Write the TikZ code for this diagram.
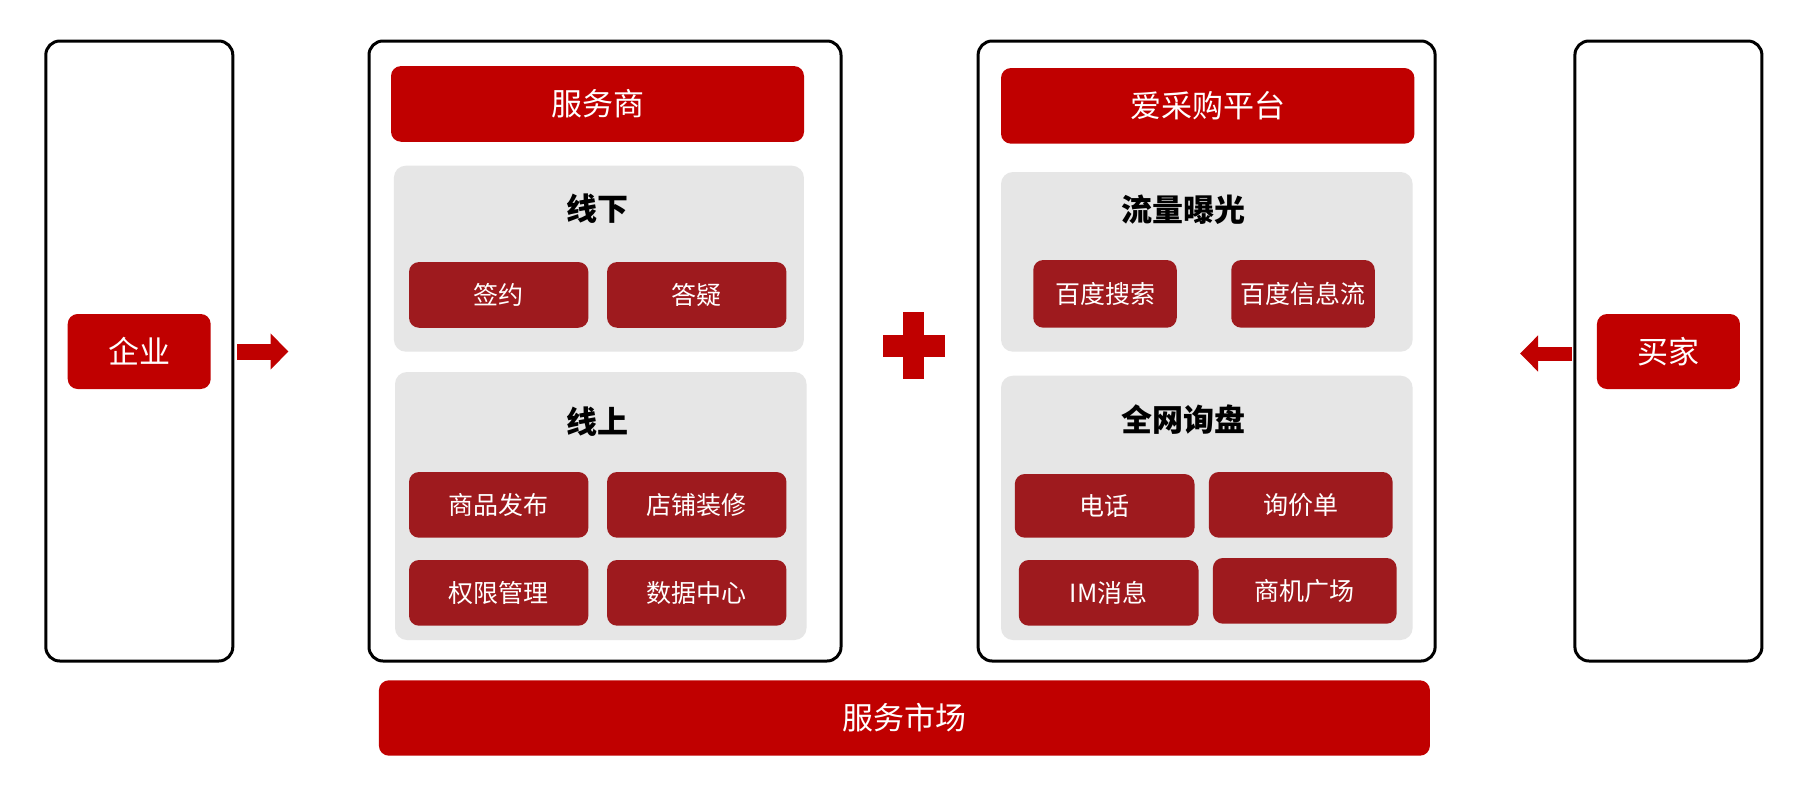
\documentclass[tikz,border=0pt]{standalone}
\usepackage{fontspec}
\newfontfamily\cjk{Noto Sans CJK SC}
\usetikzlibrary{arrows.meta}
\definecolor{hdrred}{RGB}{192,0,0}
\definecolor{itemred}{RGB}{158,26,30}
\definecolor{panelgray}{RGB}{230,230,230}
\tikzset{
  outerbox/.style={draw=black,line width=3pt,rounded corners=14pt,fill=white,inner sep=0pt},
  hdrbox/.style={fill=hdrred,rounded corners=10pt,inner sep=0pt,text=white,font=\cjk\fontsize{31}{36}\selectfont},
  panelbox/.style={fill=panelgray,rounded corners=12pt,inner sep=0pt},
  itembox/.style={fill=itemred,rounded corners=10pt,inner sep=0pt,text=white,font=\cjk\fontsize{25}{30}\selectfont},
  paneltitle/.style={inner sep=0pt,text=black,font=\cjk\bfseries\fontsize{31}{36}\selectfont},
  bigarrow/.style={draw=hdrred,line width=16pt,-{Triangle[length=18pt,width=35pt]}},
}
\begin{document}
\begin{tikzpicture}[x=1pt,y=-1pt]
\useasboundingbox (0,0) rectangle (1796,795);
% left: enterprise
\node[outerbox,minimum width=187pt,minimum height=620pt] (entbox) at (139.3,351) {};
\node[hdrbox,minimum width=143pt,minimum height=75pt] (ent) at (139.2,351.5) {企业};
% middle: service provider
\node[outerbox,minimum width=472pt,minimum height=620pt] (spbox) at (605,351) {};
\node[hdrbox,minimum width=413pt,minimum height=75.7pt] (sphdr) at (597.5,103.9) {服务商};
\node[panelbox,minimum width=410pt,minimum height=186pt] (offline) at (598.9,258.7) {};
\node[paneltitle] (offlinet) at (597,209) {线下};
\node[itembox,minimum width=179.4pt,minimum height=65.7pt] (sign) at (498.7,294.9) {签约};
\node[itembox,minimum width=179.4pt,minimum height=65.7pt] (qa) at (696.75,294.9) {答疑};
\node[panelbox,minimum width=411.5pt,minimum height=268pt] (online) at (600.75,506) {};
\node[paneltitle] (onlinet) at (597,421.7) {线上};
\node[itembox,minimum width=179.4pt,minimum height=65.7pt] (pub) at (498.7,504.85) {商品发布};
\node[itembox,minimum width=179.4pt,minimum height=65.7pt] (shop) at (696.75,504.85) {店铺装修};
\node[itembox,minimum width=179.4pt,minimum height=65.7pt] (perm) at (498.7,592.85) {权限管理};
\node[itembox,minimum width=179.4pt,minimum height=65.7pt] (data) at (696.75,592.85) {数据中心};
% plus sign
\fill[hdrred] (903,312) rectangle (924,379);
\fill[hdrred] (883,334.5) rectangle (945,356.5);
% right: platform
\node[outerbox,minimum width=457pt,minimum height=620pt] (platbox) at (1206.6,351) {};
\node[hdrbox,minimum width=413.4pt,minimum height=75.7pt] (plathdr) at (1207.7,105.85) {爱采购平台};
\node[panelbox,minimum width=411.6pt,minimum height=179.7pt] (traffic) at (1206.8,261.85) {};
\node[paneltitle] (traffict) at (1183,210) {流量曝光};
\node[itembox,minimum width=143.5pt,minimum height=67.7pt] (bsearch) at (1105,293.85) {百度搜索};
\node[itembox,minimum width=143.5pt,minimum height=67.7pt] (bfeed) at (1303,293.85) {百度信息流};
\node[panelbox,minimum width=411.6pt,minimum height=264.3pt] (inquiry) at (1206.8,507.85) {};
\node[paneltitle] (inquiryt) at (1183,420) {全网询盘};
\node[itembox,minimum width=179.7pt,minimum height=63.7pt] (phone) at (1104.65,505.85) {电话};
\node[itembox,minimum width=183.7pt,minimum height=65.7pt] (rfq) at (1300.75,504.85) {询价单};
\node[itembox,minimum width=179.7pt,minimum height=65.7pt] (im) at (1108.65,592.85) {IM消息};
\node[itembox,minimum width=183.7pt,minimum height=65.7pt] (biz) at (1304.75,590.85) {商机广场};
% far right: buyer
\node[outerbox,minimum width=187pt,minimum height=620pt] (buybox) at (1668.4,351) {};
\node[hdrbox,minimum width=143pt,minimum height=75pt] (buyer) at (1668.45,351.5) {买家};
% bottom bar
\node[hdrbox,minimum width=1051pt,minimum height=75.4pt] (market) at (904.4,718) {服务市场};
% arrows
\coordinate (a1s) at (237,351.5);
\coordinate (a1e) at (288.5,351.5);
\draw[bigarrow] (a1s) -- (a1e);
\coordinate (a2s) at (1572,353.5);
\coordinate (a2e) at (1520,353.5);
\draw[bigarrow,line width=14pt] (a2s) -- (a2e);
\end{tikzpicture}
\end{document}
